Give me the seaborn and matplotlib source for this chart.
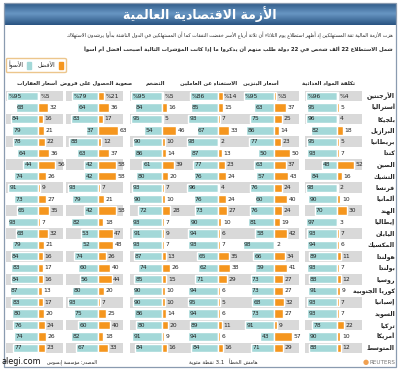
import re
import numpy as np
import pandas as pd
import seaborn as sns
import matplotlib.pyplot as plt
import matplotlib.transforms as mtrans
from matplotlib.patches import Rectangle, Patch
from matplotlib.colors import LinearSegmentedColormap

# --- data (worse = teal, better = orange) ---
countries = ['الأرجنتين', 'أستراليا', 'بلجيكا', 'البرازيل', 'بريطانيا', 'كندا',
             'الصين', 'التشيك', 'فرنسا', 'ألمانيا', 'الهند', 'إيطاليا', 'اليابان',
             'المكسيك', 'هولندا', 'بولندا', 'روسيا', 'كوريا الجنوبية', 'إسبانيا',
             'السويد', 'تركيا', 'أمريكا', 'المتوسط']

food_worse = [96, 95, 96, 82, 95, 93, 48, 84, 98, 90, 70, 97, 93, 94, 89, 93, 88, 91, 93, 93, 78, 90, 88]
food_better = [4, 5, 4, 18, 5, 7, 52, 16, 2, 10, 30, 3, 7, 6, 11, 7, 12, 9, 7, 7, 22, 10, 12]
gas_worse = [95, 63, 75, 86, 77, 50, 63, 57, 76, 60, 76, 81, 58, 98, 66, 59, 73, 73, 68, 73, 91, 43, 71]
gas_better = [5, 37, 25, 14, 23, 50, 37, 43, 24, 40, 24, 19, 42, 2, 34, 41, 27, 27, 32, 27, 9, 57, 29]
jobs_worse = [86, 85, 93, 67, 98, 87, 77, 76, 96, 76, 73, 90, 94, 93, 65, 62, 71, 94, 95, 94, 89, 94, 84]
jobs_better = [14, 15, 7, 33, 2, 13, 23, 24, 4, 24, 27, 10, 6, 7, 35, 38, 29, 6, 5, 6, 11, 6, 16]
infl_worse = [95, 84, 95, 54, 90, 86, 61, 80, 93, 90, 72, 93, 91, 93, 87, 74, 85, 90, 90, 86, 80, 91, 84]
infl_better = [5, 16, 5, 46, 10, 14, 39, 20, 7, 10, 28, 7, 9, 7, 13, 26, 15, 10, 10, 14, 20, 9, 16]
loans_worse = [79, 64, 83, 37, 88, 63, 42, 42, 93, 79, 42, 82, 53, 52, 74, 60, 56, 80, 93, 75, 60, 82, 67]
loans_better = [21, 36, 17, 63, 12, 37, 58, 58, 7, 21, 58, 18, 47, 48, 26, 40, 44, 20, 7, 25, 40, 18, 33]
house_worse = [95, 68, 84, 79, 78, 64, 44, 74, 91, 73, 65, 93, 68, 79, 84, 83, 84, 87, 83, 80, 76, 74, 77]
house_better = [5, 32, 16, 21, 22, 36, 56, 26, 9, 27, 35, 7, 32, 21, 16, 17, 16, 13, 17, 20, 24, 26, 23]

headers = ['أسعار العقارات', 'صعوبة الحصول على قروض', 'التضخم',
           'الاستغناء عن العاملين', 'أسعار البنزين', 'تكلفة المواد الغذائية']

title = 'الأزمة الاقتصادية العالمية'
intro1 = ('هزت الأزمة المالية ثقة المستهلكين إذ أظهر استطلاع يوم الثلاثاء أن ثلاثة أرباع الأسر '
          'خفضت النفقات كما أن المستهلكين في الدول الناشئة بدأوا يرشدون الاستهلاك')
intro2 = ('شمل الاستطلاع 22 ألف شخص في 22 دولة طلب منهم أن يذكروا ما إذا كانت '
          'المؤشرات التالية أصبحت أفضل أم أسوأ')

TEAL = '#a3d8d8'
ORANGE = '#f5961e'
BAND = '#d9d9d9'


# matplotlib has no arabic shaping, so map letters to presentation forms
# and lay the line out right to left by hand
AR_LETTERS = 'ءآأؤإئابةتثجحخدذرزسشصضطظعغفقكلمنهوىي'
AR_NFORMS = [1, 2, 2, 2, 2, 4, 2, 4, 2, 4, 4, 4, 4, 4, 2, 2, 2, 2, 4, 4,
             4, 4, 4, 4, 4, 4, 4, 4, 4, 4, 4, 4, 4, 2, 2, 4]
FORMS = {}
code = 0xFE80
for ch, n in zip(AR_LETTERS, AR_NFORMS):
    FORMS[ch] = (code, n)
    code += n
LAM_ALEF = {'آ': 0xFEF5, 'أ': 0xFEF7, 'إ': 0xFEF9, 'ا': 0xFEFB}


def shape(text):
    glyphs = []
    i = 0
    while i < len(text):
        ch = text[i]
        if ch == 'ل' and i + 1 < len(text) and text[i + 1] in LAM_ALEF:
            glyphs.append((LAM_ALEF[text[i + 1]], 2, True))
            i += 2
            continue
        if ch in FORMS:
            glyphs.append((FORMS[ch][0], FORMS[ch][1], True))
        else:
            glyphs.append((ch, 0, False))
        i += 1
    out = []
    for k, (base, n, is_ar) in enumerate(glyphs):
        if not is_ar:
            out.append(base)
            continue
        prev = glyphs[k - 1] if k > 0 else None
        nxt = glyphs[k + 1] if k + 1 < len(glyphs) else None
        jp = n > 1 and prev is not None and prev[2] and prev[1] == 4
        jn = n == 4 and nxt is not None and nxt[2] and nxt[1] > 1
        off = 3 if (jp and jn) else 1 if jp else 2 if jn else 0
        out.append(chr(base + off))
    return ''.join(out)


def ar(text):
    s = shape(text)
    runs = re.split(r'([0-9A-Za-z]+(?:\.[0-9]+)?)', s)
    runs = [r for r in runs if r]
    return ''.join(r if re.match(r'[0-9A-Za-z]', r) else r[::-1] for r in reversed(runs))


sns.set_theme(style='white')
plt.rcParams['font.family'] = ['DejaVu Sans']

W, H = 400, 370
fig = plt.figure(figsize=(4, 3.7), dpi=100)
fig.patch.set_facecolor('white')


def fx(px):
    return px / W


def fy(py):
    return 1 - py / H


# outer frame and title bar
fig.add_artist(Rectangle((fx(4), fy(367)), fx(392), 364 / H, transform=fig.transFigure,
                         fill=False, ec='#8a9bb0', lw=0.9))
ax_t = fig.add_axes([fx(4), fy(25), fx(392), 22 / H])
grad = np.concatenate([np.linspace(0, 1, 11), np.linspace(1, 0, 11)]).reshape(-1, 1)
cmap = LinearSegmentedColormap.from_list('bar', ['#2b5583', '#6593c0'])
ax_t.imshow(grad, aspect='auto', cmap=cmap)
ax_t.axis('off')
ax_t.text(0.5, 0.5, ar(title), transform=ax_t.transAxes, ha='center', va='center',
          color='white', fontsize=9, weight='bold')

fig.text(fx(393), fy(35), ar(intro1), ha='right', va='center', fontsize=3.55)
fig.text(fx(393), fy(50), ar(intro2), ha='right', va='center', fontsize=3.9, weight='bold')

fig.legend(handles=[Patch(color=TEAL), Patch(color=ORANGE)],
           labels=[ar('الأسوأ'), ar('الأفضل')], loc='upper left',
           bbox_to_anchor=(fx(3), fy(55)), ncol=2, markerfirst=False, fontsize=4.3,
           handlelength=0.7, handleheight=1.3, columnspacing=1.2, handletextpad=0.5,
           borderpad=0.45, frameon=True, edgecolor='#e8b870', fancybox=True)

# panels, left to right
panels = [(house_worse, house_better), (loans_worse, loans_better),
          (infl_worse, infl_better), (jobs_worse, jobs_better),
          (gas_worse, gas_better), (food_worse, food_better)]
centers = [37.5, 97.5, 161.5, 218, 274, 337]
head_x = [37, 96, 155, 209, 261, 328]
top, bottom = 90.3, 353.7

for (worse, better), c, hx, head in zip(panels, centers, head_x, headers):
    ax = fig.add_axes([fx(c - 32), fy(bottom), fx(57), (bottom - top) / H])
    df = pd.DataFrame({'country': countries, 'worse': -np.array(worse), 'better': better})
    for r in range(0, len(countries), 2):
        ax.axhspan(r - 0.47, r + 0.47, color=BAND, zorder=0, lw=0)
    sns.barplot(data=df, x='worse', y='country', orient='h', color=TEAL,
                saturation=1, width=0.72, ax=ax, zorder=2)
    sns.barplot(data=df, x='better', y='country', orient='h', color=ORANGE,
                saturation=1, width=0.72, ax=ax, zorder=2)
    ax.set_xlim(-100, 78)
    ax.set_ylim(len(countries) - 0.5, -0.5)
    ax.axis('off')
    for r, (w, b) in enumerate(zip(worse, better)):
        pre = '%' if r == 0 else ''
        ax.text(-w + 4, r, pre + str(w), ha='left', va='center', fontsize=4.3, color='#222222')
        ax.text(b + 5, r, pre + str(b), ha='left', va='center', fontsize=4.3, color='#222222')
    fig.text(fx(hx), fy(83), ar(head), ha='center', va='center', fontsize=3.9, weight='bold')

# country names on the right
tr = mtrans.blended_transform_factory(fig.transFigure, ax.transData)
for r, name in enumerate(countries):
    fig.text(fx(395), r, ar(name), transform=tr, ha='right', va='center',
             fontsize=4.5, weight='bold', color='#222222')

# footer
fig.text(fx(97), fy(362), ar('المصدر: مؤسسة إبسوس'), ha='right', va='center', fontsize=3.4)
fig.text(fx(224), fy(362), ar('3.1 نقطة مئوية'), ha='right', va='center', fontsize=3.9)
fig.text(fx(258), fy(362), ar('هامش الخطأ'), ha='right', va='center', fontsize=3.9)
fig.text(fx(366), fy(362), '\u25CF', ha='center', va='center', fontsize=5, color='#f0a050')
fig.text(fx(370), fy(362), 'REUTERS', ha='left', va='center', fontsize=4.1, color='#777777')
fig.text(fx(2), fy(361), 'alegi.com', ha='left', va='center', fontsize=5.8, color='#111111')

fig.savefig('out.png', dpi=100, facecolor='white')
